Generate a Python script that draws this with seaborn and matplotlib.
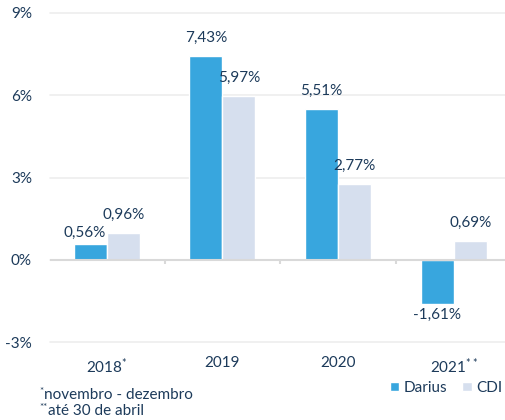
import pandas as pd
import seaborn as sns
import matplotlib.pyplot as plt

# Data
years = ["2018", "2019", "2020", "2021"]
year_labels = ["2018$^{*}$", "2019", "2020", "2021$^{**}$"]
darius = [0.56, 7.43, 5.51, -1.61]
cdi = [0.96, 5.97, 2.77, 0.69]
series = ["Darius", "CDI"]
notes = [("*", "novembro - dezembro"), ("**", "até 30 de abril")]

TXT = "#1c3a5a"
colors = {"Darius": "#38a6de", "CDI": "#d6dfee"}

sns.set_theme(style="white")
plt.rcParams["font.family"] = ["Lato", "DejaVu Sans"]
plt.rcParams["mathtext.fontset"] = "custom"
plt.rcParams["mathtext.rm"] = "Lato"
plt.rcParams["mathtext.default"] = "regular"

df = pd.DataFrame({
    "year": years * 2,
    "series": ["Darius"] * 4 + ["CDI"] * 4,
    "value": darius + cdi,
})

fig = plt.figure(figsize=(5.06, 4.2), dpi=100)
ax = fig.add_axes([50 / 506, 1 - 342 / 420, 1 - 50 / 506, (342 - 13) / 420])

sns.barplot(data=df, x="year", y="value", hue="series", hue_order=series,
            palette=colors, width=0.57, saturation=1, ax=ax, zorder=3)

ax.set_ylim(-3, 9)
ax.set_xlim(-0.49, 3.45)
ax.set_yticks([-3, 0, 3, 6, 9])
ax.set_yticklabels(["-3%", "0%", "3%", "6%", "9%"])
ax.set_xticks(range(4))
ax.set_xticklabels(year_labels)
ax.tick_params(axis="y", length=0, pad=13, labelsize=11, labelcolor=TXT)
ax.tick_params(axis="x", length=0, pad=10, labelsize=11, labelcolor=TXT)
ax.set_xlabel("")
ax.set_ylabel("")
for s in ax.spines.values():
    s.set_visible(False)

ax.grid(axis="y", color="#eeeeee", linewidth=1.2, zorder=0)
for gl in ax.get_ygridlines():
    gl.set_clip_on(False)
ax.axhline(0, color="#d9d9d9", linewidth=1.5, zorder=4)
ax.vlines([0.5, 1.5, 2.5], -0.17, 0, color="#d9d9d9", linewidth=1.5, zorder=4)

# value labels
for cont, vals in zip(ax.containers, [darius, cdi]):
    for bar, v in zip(cont, vals):
        x = bar.get_x() + bar.get_width() / 2
        txt = f"{v:.2f}%".replace(".", ",")
        if v < 0:
            ax.annotate(txt, (x, v), xytext=(0, -3), textcoords="offset points",
                        ha="center", va="top", fontsize=11, color=TXT)
        elif v == 0.56:
            ax.annotate(txt, (x, v), xytext=(-4, 3), textcoords="offset points",
                        ha="center", va="bottom", fontsize=11, color=TXT)
        else:
            ax.annotate(txt, (x, v), xytext=(0, 8), textcoords="offset points",
                        ha="center", va="bottom", fontsize=11, color=TXT)

handles, labels = ax.get_legend_handles_labels()
ax.get_legend().remove()
fig.legend(handles, labels, loc="center", bbox_to_anchor=(446 / 506, 1 - 388 / 420),
           ncol=2, frameon=False, fontsize=11, labelcolor=TXT,
           handlelength=0.6, handleheight=0.6, handletextpad=0.3, columnspacing=1.0)

# footnotes: small raised asterisks + text
for i, (star, note) in enumerate(notes):
    y = 1 - (395 + 16 * i) / 420
    fig.text(39 / 506, y + 4 / 420, star, fontsize=7, color=TXT, va="center")
    fig.text((39 + 4 * len(star) + 1) / 506, y, note, fontsize=11, color=TXT, va="center")

fig.savefig("out.png", dpi=100)
